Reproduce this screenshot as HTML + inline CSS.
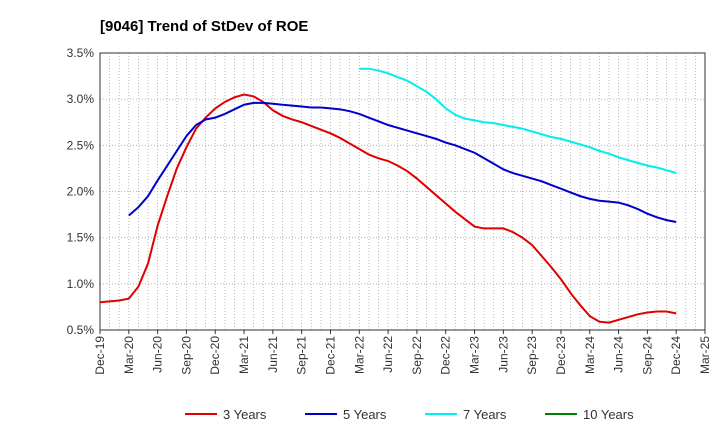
<!DOCTYPE html>
<html><head><meta charset="utf-8"><style>
body{margin:0;background:#fff;font-family:"Liberation Sans",sans-serif;}
svg text{font-family:"Liberation Sans",sans-serif;}
</style></head><body>
<svg id="chart" width="720" height="440">
<text x="100" y="31" font-size="15" font-weight="bold" fill="#000">[9046]  Trend of StDev of ROE</text>
<g id="grid"></g><g id="axes"></g><g id="series"></g><g id="legend"></g>
</svg>
<script>
const xLabels=["Dec-19","Mar-20","Jun-20","Sep-20","Dec-20","Mar-21","Jun-21","Sep-21","Dec-21","Mar-22","Jun-22","Sep-22","Dec-22","Mar-23","Jun-23","Sep-23","Dec-23","Mar-24","Jun-24","Sep-24","Dec-24","Mar-25"];
const yTicks=[0.5,1.0,1.5,2.0,2.5,3.0,3.5];
const y3=[0.80,0.81,0.82,0.84,0.97,1.22,1.63,1.95,2.25,2.48,2.68,2.80,2.90,2.97,3.02,3.05,3.03,2.97,2.88,2.82,2.78,2.75,2.71,2.67,2.63,2.58,2.52,2.46,2.40,2.36,2.33,2.28,2.22,2.14,2.05,1.96,1.87,1.78,1.70,1.62,1.60,1.60,1.60,1.56,1.50,1.42,1.30,1.18,1.05,0.90,0.77,0.65,0.59,0.58,0.61,0.64,0.67,0.69,0.70,0.70,0.68];
const y5=[1.74,1.83,1.95,2.12,2.28,2.44,2.60,2.72,2.78,2.80,2.84,2.89,2.94,2.96,2.96,2.95,2.94,2.93,2.92,2.91,2.91,2.90,2.89,2.87,2.84,2.80,2.76,2.72,2.69,2.66,2.63,2.60,2.57,2.53,2.50,2.46,2.42,2.36,2.30,2.24,2.20,2.17,2.14,2.11,2.07,2.03,1.99,1.95,1.92,1.90,1.89,1.88,1.85,1.81,1.76,1.72,1.69,1.67];
const y7=[3.33,3.33,3.31,3.28,3.24,3.20,3.14,3.08,3.00,2.90,2.83,2.79,2.77,2.75,2.74,2.72,2.70,2.68,2.65,2.62,2.59,2.57,2.54,2.51,2.48,2.44,2.41,2.37,2.34,2.31,2.28,2.26,2.23,2.20];
const y10=[];
const X0=100,X1=705,Y0=330,Y1=53;
const xs=m=>X0+(X1-X0)*m/63;
const ys=v=>Y0-(Y0-Y1)*(v-0.5)/3.0;
const NS="http://www.w3.org/2000/svg";
function mk(t,p,a){const e=document.createElementNS(NS,t);for(const k in a)e.setAttribute(k,a[k]);p.appendChild(e);return e;}
const grid=document.getElementById('grid'),axes=document.getElementById('axes'),series=document.getElementById('series'),legend=document.getElementById('legend');
for(let m=1;m<63;m++){const l=mk('line',grid,{x1:xs(m),x2:xs(m),y1:Y1,y2:Y0,stroke:'#aaa','stroke-width':0.8,'stroke-dasharray':'1,2'});

}
yTicks.forEach(v=>{const l=mk('line',grid,{x1:X0,x2:X1,y1:ys(v),y2:ys(v),stroke:'#aaa','stroke-width':0.8,'stroke-dasharray':'1,2'});


const t=mk('text',axes,{x:X0-6,y:ys(v)+4,'text-anchor':'end','font-size':12,fill:'#333'});t.textContent=v.toFixed(1)+'%';

});
const r=mk('rect',axes,{x:X0,y:Y1,width:X1-X0,height:Y0-Y1,fill:'none',stroke:'#333','stroke-width':1});


xLabels.forEach((s,i)=>{const x=xs(i*3);
mk('line',axes,{x1:x,x2:x,y1:Y0,y2:Y0+4,stroke:'#333'});
const t=mk('text',axes,{x:x+4,y:Y0+6,'text-anchor':'end','font-size':12,fill:'#333',transform:`rotate(-90 ${x+4} ${Y0+6})`});t.textContent=s;

});
function line(arr,start,color,name){if(!arr.length)return;
const p=mk('polyline',series,{points:arr.map((v,i)=>xs(start+i)+','+ys(v)).join(' '),fill:'none',stroke:color,'stroke-width':2});

}
line(y3,0,'#e00000','series-3-years');
line(y5,3,'#0000cc','series-5-years');
line(y7,27,'#00eeee','series-7-years');
line(y10,48,'#008000','series-10-years');
[['3 Years','#e00000',185],['5 Years','#0000cc',305],['7 Years','#00eeee',425],['10 Years','#008000',545]].forEach(([n,c,x])=>{
const g=mk('g',legend,{});


mk('line',g,{x1:x,x2:x+32,y1:414,y2:414,stroke:c,'stroke-width':2});
const t=mk('text',g,{x:x+38,y:419,'font-size':13,fill:'#333'});t.textContent=n;});
</script>
</body></html>
